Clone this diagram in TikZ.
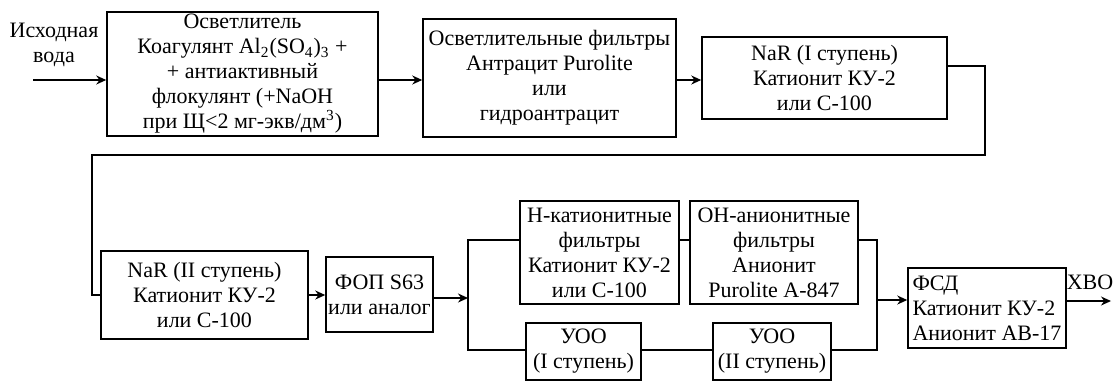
\documentclass[tikz,border=0pt]{standalone}
\usepackage{fontspec}
\setmainfont{Liberation Serif}
\usetikzlibrary{arrows.meta, positioning, calc}

\tikzset{
  box/.style={draw, line width=0.75pt, align=center, inner sep=1pt},
  line/.style={line width=0.75pt},
  flow/.style={line width=0.75pt, -{Stealth[length=5pt, width=4.5pt]}}
}

\begin{document}
\begin{tikzpicture}[x=0.5pt, y=-0.5pt, font=\fontsize{11}{12.5}\selectfont]
  \useasboundingbox (0,0) rectangle (1118,380);

  \node[align=center] (src) at (54,45) {Исходная\\вода};
  \node[box, minimum width=135.5pt, minimum height=62pt] (clar) at (242.5,74)
    {Осветлитель\\Коагулянт Al\textsubscript{2}(SO\textsubscript{4})\textsubscript{3} +\\+ антиактивный\\флокулянт (+NaOH\\при Щ<2 мг-экв/дм\textsuperscript{3})};
  \node[box, minimum width=126.5pt, minimum height=59pt] (filt) at (549.5,78)
    {Осветлительные фильтры\\Антрацит Purolite\\или\\гидроантрацит};
  \node[box, minimum width=122.5pt, minimum height=41pt] (na1) at (824.5,78)
    {NaR (I ступень)\\Катионит КУ-2\\или С-100};
  \node[box, minimum width=103.5pt, minimum height=44pt] (na2) at (204.5,295)
    {NaR (II ступень)\\Катионит КУ-2\\или С-100};
  \node[box, minimum width=53.5pt, minimum height=37.5pt] (fop) at (379.5,294.5)
    {ФОП S63\\или аналог};
  \node[box, minimum width=79.5pt, minimum height=51.5pt] (hcat) at (599.5,252.5)
    {H-катионитные\\фильтры\\Катионит КУ-2\\или С-100};
  \node[box, minimum width=84pt, minimum height=51.5pt] (ohan) at (774,252.5)
    {OH-анионитные\\фильтры\\Анионит\\Purolite A-847};
  \node[box, minimum width=57.5pt, minimum height=28.5pt] (uoo1) at (583.5,351.5)
    {УОО\\(I ступень)};
  \node[box, minimum width=59pt, minimum height=28.5pt] (uoo2) at (772,351.5)
    {УОО\\(II ступень)};
  \node[box, align=left, minimum width=79pt, minimum height=40pt] (fsd) at (987,308)
    {ФСД\\Катионит КУ-2\\Анионит АВ-17};
  \node (hvo) at (1090,282) {ХВО};

  \coordinate (in) at (33,80);
  \coordinate (turnR) at (985,155);
  \coordinate (turnL) at (92,295);
  \coordinate (split) at (468,298);
  \coordinate (splitT) at (468,240);
  \coordinate (splitB) at (468,350);
  \coordinate (mergeT) at (877,240);
  \coordinate (mergeB) at (877,350);
  \coordinate (merge) at (877,300);
  \coordinate (out) at (1111,301);

  \draw[flow] (in) -- (in -| clar.west);
  \draw[flow] (clar.east |- in) -- (filt.west |- in);
  \draw[flow] (filt.east |- in) -- (na1.west |- in);
  \draw[line] ($(na1.east)+(0,-12)$) -| (turnR) -| (turnL) -- (na2.west);
  \draw[flow] (na2.east) -- (fop.west |- na2.east);
  \draw[flow] (fop.east |- split) -- (split);
  \draw[line] (hcat.west |- splitT) -- (splitT) -- (splitB) -- (uoo1.west |- splitB);
  \draw[line] (hcat.east |- splitT) -- (ohan.west |- splitT);
  \draw[line] (uoo1.east |- splitB) -- (uoo2.west |- splitB);
  \draw[line] (ohan.east |- mergeT) -- (mergeT) -- (mergeB) -- (uoo2.east |- mergeB);
  \draw[flow] (merge) -- (merge -| fsd.west);
  \draw[flow] (fsd.east |- out) -- (out);
\end{tikzpicture}
\end{document}
